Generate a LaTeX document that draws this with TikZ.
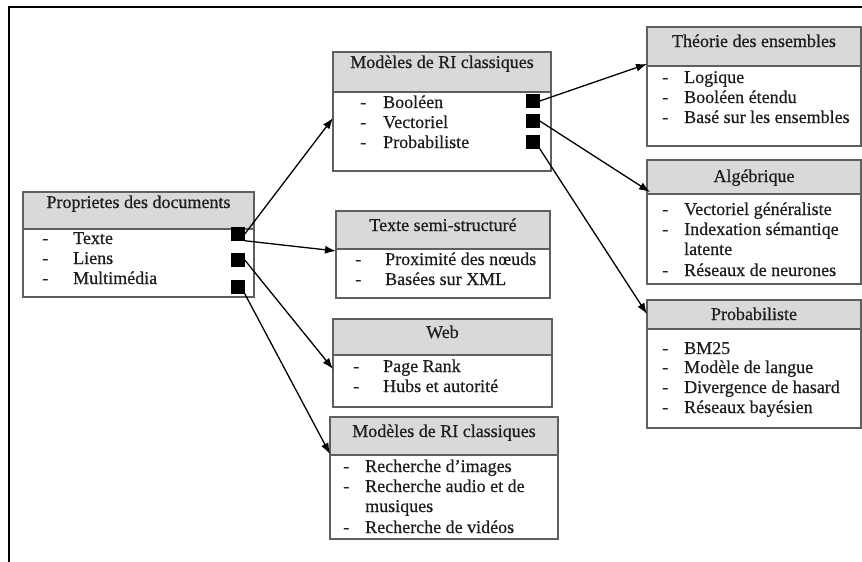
\documentclass[tikz,border=0pt]{standalone}
\usepackage{fontspec}
\setmainfont{Liberation Serif}[FakeBold=0.6]
\usetikzlibrary{arrows.meta}

\definecolor{boxline}{RGB}{95,95,95}
\definecolor{headgray}{RGB}{217,217,217}
\definecolor{inkgray}{RGB}{30,30,30}

\tikzset{
  boxframe/.style={draw=boxline, line width=1.6pt, inner sep=0pt, outer sep=0pt, anchor=north west},
  sepline/.style={draw=boxline, line width=1.6pt},
  titletext/.style={anchor=base, inner sep=0pt, text=inkgray, font=\fontsize{18}{20}\selectfont},
  itemtext/.style={anchor=base west, inner sep=0pt, text=inkgray, font=\fontsize{18}{20}\selectfont},
  port/.style={fill=black, draw=none, minimum size=13.5pt, inner sep=0pt, outer sep=0pt},
  link/.style={draw=black, line width=1.3pt, -{Latex[length=11pt,width=8pt]}},
  frameline/.style={draw=black, line width=2pt},
}

% a class box: name, left, top, right, bottom, header bottom, title baseline, title
\newcommand\catbox[8]{%
  \fill[headgray] (#2,#3) rectangle (#4,#6);
  \draw[sepline] (#2,#6) -- (#4,#6);
  \node[boxframe, minimum width={#4pt-#2pt}, minimum height={#5pt-#3pt}] (#1) at (#2,#3) {};
  \node[titletext] (#1-title) at ({(#2+#4)/2},#7) {#8};
}
% one list entry: name, dash x, text x, baseline, text
\newcommand\listentry[5]{%
  \node[itemtext] (#1-dash) at (#2,#4) {-};
  \node[itemtext] (#1) at (#3,#4) {#5};
}
% continuation line of an entry: name, text x, baseline, text
\newcommand\listcont[4]{%
  \node[itemtext] (#1) at (#2,#3) {#4};
}

\begin{document}
\begin{tikzpicture}[x=1pt, y=-1pt]
\useasboundingbox (0,0) rectangle (862,562);

% page frame
\draw[frameline] (9,562) -- (9,7) -- (862,7);

% document properties
\catbox{doc}{23}{192}{254}{297}{229}{208}{Proprietes des documents}
\listentry{doc1}{42}{73}{244}{Texte}
\listentry{doc2}{42}{73}{264}{Liens}
\listentry{doc3}{42}{73}{284}{Multimédia}
\node[port] (A1) at (238,234) {};
\node[port] (A2) at (238,260) {};
\node[port] (A3) at (238,287) {};

% classic IR models
\catbox{cls}{333}{52}{551}{171}{92}{68}{Modèles de RI classiques}
\listentry{cls1}{360}{383}{108}{Booléen}
\listentry{cls2}{360}{383}{128}{Vectoriel}
\listentry{cls3}{360}{383}{148}{Probabiliste}
\node[port] (B1) at (533,101) {};
\node[port] (B2) at (533,121) {};
\node[port] (B3) at (533,142) {};

% semi-structured text
\catbox{semi}{336}{211}{550}{298}{249}{231}{Texte semi-structuré}
\listentry{semi1}{355}{385}{265}{Proximité des nœuds}
\listentry{semi2}{355}{385}{285}{Basées sur XML}

% web
\catbox{web}{333}{319}{552}{407}{355}{338}{Web}
\listentry{web1}{353}{383}{372}{Page Rank}
\listentry{web2}{353}{383}{392}{Hubs et autorité}

% multimedia
\catbox{mm}{330}{417}{558}{539}{455}{437}{Modèles de RI classiques}
\listentry{mm1}{343}{365}{472}{Recherche d’images}
\listentry{mm2}{343}{365}{492}{Recherche audio et de}
\listcont{mm2b}{365}{512}{musiques}
\listentry{mm3}{343}{365}{533}{Recherche de vidéos}

% set theory
\catbox{set}{647}{27}{861}{146}{66}{47}{Théorie des ensembles}
\listentry{set1}{662}{684}{83}{Logique}
\listentry{set2}{662}{684}{103}{Booléen étendu}
\listentry{set3}{662}{684}{123}{Basé sur les ensembles}

% algebraic
\catbox{alg}{647}{160}{861}{284}{194}{182}{Algébrique}
\listentry{alg1}{662}{684}{215}{Vectoriel généraliste}
\listentry{alg2}{662}{684}{235}{Indexation sémantiqe}
\listcont{alg2b}{684}{255}{latente}
\listentry{alg3}{662}{684}{276}{Réseaux de neurones}

% probabilistic
\catbox{prob}{647}{300}{861}{428}{329}{320}{Probabiliste}
\listentry{prob1}{662}{684}{354}{BM25}
\listentry{prob2}{662}{684}{373}{Modèle de langue}
\listentry{prob3}{662}{684}{393}{Divergence de hasard}
\listentry{prob4}{662}{684}{413}{Réseaux bayésien}

% arrow targets on the box borders
\coordinate (inCls)  at (333,118);
\coordinate (inSemi) at (336,251);
\coordinate (inWeb)  at (333,369);
\coordinate (inMm)   at (330,454);
\coordinate (inSet)  at (647,64);
\coordinate (inAlg)  at (650,192);
\coordinate (inProb) at (647,314);

% connectors
\draw[link] (A1.east) -- (inCls);
\draw[link] (A1.south east) -- (inSemi);
\draw[link] (A2.east) -- (inWeb);
\draw[link] (A3.south east) -- (inMm);
\draw[link] (B1.east) -- (inSet);
\draw[link] (B2.east) -- (inAlg);
\draw[link] (B3.south east) -- (inProb);
\end{tikzpicture}
\end{document}
